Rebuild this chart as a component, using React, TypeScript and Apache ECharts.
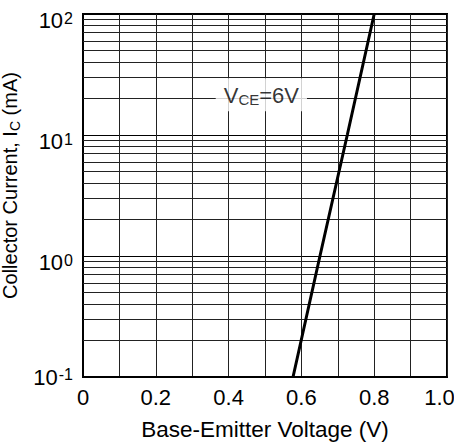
import React, { useEffect, useRef } from "react";
import * as echarts from "echarts";

// Data
const vbeValues = [0.577, 0.651, 0.726, 0.8]; // Base-Emitter Voltage (V)
const icValues = [0.1, 1, 10, 100]; // Collector Current (mA)
const minorGridY = [
  0.2, 0.3, 0.4, 0.5, 0.6, 0.7, 0.8, 0.9,
  2, 3, 4, 5, 6, 7, 8, 9,
  20, 30, 40, 50, 60, 70, 80, 90,
];
const annotationPoint = [0.49, 21.5];
const xTickLabels = ["0", "0.2", "0.4", "0.6", "0.8", "1.0"];

const FONT = "Liberation Sans, Arial, sans-serif";

export default function App() {
  const ref = useRef<HTMLDivElement>(null);
  useEffect(() => {
    if (!ref.current) return;
    const chart = echarts.init(ref.current, undefined, { renderer: "svg" });
    const curve = vbeValues.map((v, i) => [v, icValues[i]]);
    chart.setOption({
      animation: false,
      textStyle: { fontFamily: FONT, color: "#000" },
      grid: {
        left: 83,
        right: 7,
        top: 14,
        bottom: 71,
        outerBoundsMode: "none",
        containLabel: false,
        show: true,
        borderColor: "#000",
        borderWidth: 2,
        backgroundColor: "#fff",
      },
      xAxis: {
        type: "value",
        min: 0,
        max: 1,
        interval: 0.1,
        name: "Base-Emitter Voltage (V)",
        nameLocation: "middle",
        nameGap: 41,
        nameTextStyle: { fontSize: 22.5, fontFamily: FONT, color: "#000" },
        axisLine: { show: true, lineStyle: { color: "#000", width: 2 } },
        axisTick: { show: false },
        splitLine: { show: true, lineStyle: { color: "#222", width: 1 } },
        axisLabel: {
          fontSize: 22,
          fontFamily: FONT,
          color: "#000",
          margin: 9,
          formatter: (v: number) => {
            const r = Math.round(v * 10);
            if (r % 2) return "";
            const t = xTickLabels[r / 2];
            return r === 10 ? "{r|" + t + "}" : t;
          },
          rich: {
            r: { fontSize: 22, fontFamily: FONT, color: "#000", padding: [0, 15, 0, 0] },
          },
        },
      },
      yAxis: {
        type: "log",
        logBase: 10,
        min: 0.1,
        max: 100,
        name: "{a|Collector Current, I}{s|C}{a| (mA)}",
        nameLocation: "middle",
        nameRotate: 90,
        nameGap: 52,
        nameTextStyle: {
          fontFamily: FONT,
          color: "#000",
          padding: [0, 0, 0, 20],
          rich: {
            a: { fontSize: 20, lineHeight: 24, fontFamily: FONT, color: "#000" },
            s: { fontSize: 14, fontFamily: FONT, color: "#000", verticalAlign: "bottom" },
          },
        },
        axisLine: { show: true, lineStyle: { color: "#000", width: 2 } },
        axisTick: { show: false },
        splitLine: { show: true, lineStyle: { color: "#000", width: 1 } },
        axisLabel: {
          margin: 10,
          formatter: (v: number) => {
            const e = Math.round(Math.log10(v));
            if (e === -1) return "{b0|10}{e0|" + e + "}";
            return "{b|10}{e|" + e + "}";
          },
          rich: {
            b: { fontSize: 22, lineHeight: 22, padding: [12, 0, 0, 0], fontFamily: FONT, color: "#000" },
            e: { fontSize: 16, verticalAlign: "top", padding: [8, 0, 0, 1], fontFamily: FONT, color: "#000" },
            b0: { fontSize: 22, lineHeight: 22, fontFamily: FONT, color: "#000" },
            e0: { fontSize: 16, verticalAlign: "top", padding: [0, 0, 0, 1], fontFamily: FONT, color: "#000" },
          },
        },
      },
      series: [
        {
          type: "line",
          data: curve,
          showSymbol: false,
          smooth: false,
          z: 4,
          lineStyle: { color: "#000", width: 3 },
          markLine: {
            silent: true,
            symbol: "none",
            label: { show: false },
            lineStyle: { color: "#222", width: 1, type: "solid" },
            data: minorGridY.map((v) => ({ yAxis: v })),
            z: 1,
          },
        },
        {
          type: "scatter",
          data: [annotationPoint],
          symbolSize: 0,
          z: 6,
          label: {
            show: true,
            position: "inside",
            backgroundColor: "#fff",
            padding: [5, 8, 4, 8],
            formatter: "{a|V}{s|CE}{a|=6V}",
            rich: {
              a: { fontSize: 22, lineHeight: 24, fontFamily: FONT, color: "#000" },
              s: { fontSize: 15, fontFamily: FONT, color: "#000", verticalAlign: "bottom" },
            },
          },
        },
      ],
    });
    return () => chart.dispose();
  }, []);
  return <div ref={ref} style={{ width: 454, height: 448, position: "absolute", left: 0, top: 0 }} />;
}
